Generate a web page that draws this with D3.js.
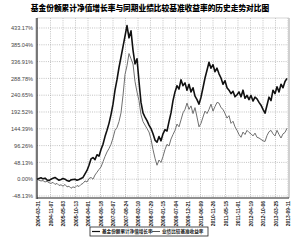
<!DOCTYPE html>
<html>
<head>
<meta charset="utf-8">
<script src="https://cdn.jsdelivr.net/npm/d3@7"></script>
<style>
  body { margin: 0; background: #fff; }
  text { font-family: "Liberation Sans", Arial, sans-serif; }
</style>
</head>
<body>
<div id="chart"></div>
<script>
// Chart data
const title = "基金份额累计净值增长率与同期业绩比较基准收益率的历史走势对比图";
const seriesNames = ["基金份额累计净值增长率", "业绩比较基准收益率"];
const yTicks = [-48.13, 0, 48.13, 96.26, 144.39, 192.52, 240.65, 288.78, 336.91, 385.04, 433.17];
const dateLabels = ["2004-03-31", "2004-11-07", "2005-05-03", "2005-10-13", "2006-04-01",
  "2006-09-18", "2007-03-07", "2007-08-24", "2008-02-10", "2008-07-29", "2009-01-15",
  "2009-07-04", "2009-12-21", "2010-06-09", "2010-11-26", "2011-05-15", "2011-11-01",
  "2012-04-19", "2012-10-06", "2013-03-25", "2013-09-11"];

// cumulative NAV growth (%) at equal time steps
const fund = [0, 2, 4, 1, 3, -2, -4, 0, 3, 5, 1, -3, -1, 2, 0, -4, -6, -2, -1, 0,
  -3, -1, 2, 5, 15, 25, 40, 58, 62, 56, 70, 66, 85, 100, 122, 140, 160, 185, 215, 255,
  285, 320, 350, 380, 410, 440, 405, 425, 370, 330, 345, 280, 220, 190, 178, 168, 155, 145, 130, 112,
  106, 122, 110, 130, 142, 138, 165, 190, 225, 250, 268, 258, 285, 268, 276, 255, 272, 250, 262, 238,
  228, 215, 235, 262, 290, 312, 335, 318, 328, 308, 318, 302, 290, 272, 282, 262, 255, 245, 252, 236,
  242, 250, 236, 255, 232, 240, 228, 240, 224, 235, 230, 220, 212, 200, 189, 212, 235, 225, 255, 245,
  265, 250, 272, 262, 280, 289];

// benchmark return (%) at the same steps
const bench = [0, -3, -5, -4, -8, -6, -10, -12, -9, -15, -12, -18, -16, -20, -15, -22, -20, -26, -22, -24,
  -18, -21, -15, -12, -5, -8, 2, 5, 0, 12, 20, 28, 35, 50, 65, 78, 88, 100, 118, 140,
  148, 165, 190, 240, 300, 325, 360, 345, 330, 280, 250, 225, 185, 165, 155, 145, 135, 115, 85, 60,
  40, 55, 48, 65, 85, 100, 95, 115, 128, 140, 158, 150, 170, 190, 200, 218, 200, 210, 188, 205,
  178, 150, 160, 178, 195, 188, 200, 215, 195, 208, 220, 218, 205, 200, 188, 175, 182, 160, 166, 150,
  140, 128, 120, 135, 128, 140, 134, 130, 124, 132, 120, 118, 114, 110, 108, 125, 136, 140, 130, 124,
  140, 128, 118, 130, 134, 146];

const W = 300, H = 240;
const mLeft = 37, mRight = 289, mTop = 18, mBottom = 198;

const svg = d3.select("#chart").append("svg")
    .attr("width", W)
    .attr("height", H);

// Title
svg.append("text")
    .attr("x", 150)
    .attr("y", 11)
    .attr("text-anchor", "middle")
    .style("font-family", "'Noto Sans CJK SC'")
    .style("font-weight", "900")
    .style("font-size", "7.7px")
    .attr("fill", "#000")
    .text(title);

// Scales
const x = d3.scaleLinear()
    .domain([0, fund.length - 1])
    .range([mLeft, mLeft + 2 * (fund.length - 1)]);

const y = d3.scaleLinear()
    .domain([-53.86, 461.8])
    .range([mBottom, mTop]);

// date tick positions spread evenly along the axis
const xt = d3.scaleLinear()
    .domain([0, dateLabels.length - 1])
    .range([mLeft + 1, mLeft + 251]);

// Grid
const grid = svg.append("g").attr("stroke", "#9a9a9a").attr("stroke-width", 0.6)
    .attr("stroke-dasharray", "1,1.2");
grid.selectAll(".hg").data(yTicks).enter().append("line")
    .attr("x1", mLeft).attr("x2", mRight)
    .attr("y1", d => y(d)).attr("y2", d => y(d));
grid.selectAll(".vg").data(dateLabels.slice(1)).enter().append("line")
    .attr("x1", (d, i) => xt(i + 1)).attr("x2", (d, i) => xt(i + 1))
    .attr("y1", mTop).attr("y2", mBottom);

// Y axis labels
svg.append("g")
    .attr("transform", `translate(${mLeft},0)`)
    .call(d3.axisLeft(y).tickValues(yTicks).tickSize(0).tickPadding(4)
      .tickFormat(d => d.toFixed(2) + "%"))
    .call(g => g.select(".domain").remove())
    .selectAll("text")
      .attr("fill", "#444")
      .style("font-size", "5.6px");

// X axis labels (rotated)
svg.append("g").selectAll("text")
    .data(dateLabels)
    .enter().append("text")
      .attr("transform", (d, i) => `translate(${xt(i) + 2},${mBottom + 3}) rotate(-90)`)
      .attr("text-anchor", "end")
      .attr("fill", "#222")
      .style("font-weight", "bold")
      .style("font-size", "5px")
      .text(d => d);

// Frame
svg.append("rect")
    .attr("x", mRight - 1).attr("y", mTop)
    .attr("width", 2).attr("height", mBottom - mTop)
    .attr("fill", "#d0d0d0");
svg.append("line")
    .attr("x1", mLeft).attr("x2", mRight)
    .attr("y1", mTop).attr("y2", mTop)
    .attr("stroke", "#bbb").attr("stroke-width", 0.6);
svg.append("line")
    .attr("x1", mLeft).attr("x2", mLeft)
    .attr("y1", mTop).attr("y2", mBottom + 1)
    .attr("stroke", "#222").attr("stroke-width", 1.2);
svg.append("line")
    .attr("x1", mLeft - 1).attr("x2", mLeft - 1)
    .attr("y1", mTop).attr("y2", mBottom + 1)
    .attr("stroke", "#666").attr("stroke-width", 0.5);
svg.append("line")
    .attr("x1", mLeft).attr("x2", mRight)
    .attr("y1", mBottom).attr("y2", mBottom)
    .attr("stroke", "#222").attr("stroke-width", 1.2);

// Lines
const line = d3.line()
    .x((d, i) => x(i))
    .y(d => y(d));

svg.append("path")
    .datum(bench)
    .attr("fill", "none")
    .attr("stroke", "#707070")
    .attr("stroke-width", 1)
    .attr("d", line);

svg.append("path")
    .datum(fund)
    .attr("fill", "none")
    .attr("stroke", "#111")
    .attr("stroke-width", 1.6)
    .attr("stroke-linejoin", "round")
    .attr("d", line);

// Legend
const lg = svg.append("g").attr("transform", "translate(90,227)");
lg.append("rect")
    .attr("width", 118).attr("height", 9)
    .attr("fill", "#fff").attr("stroke", "#222").attr("stroke-width", 0.8);
const items = [
  { name: seriesNames[0], x0: 2, color: "#111", w: 1.2 },
  { name: seriesNames[1], x0: 62, color: "#555", w: 1 }
];
items.forEach(it => {
  lg.append("line")
      .attr("x1", it.x0).attr("x2", it.x0 + 8)
      .attr("y1", 4.5).attr("y2", 4.5)
      .attr("stroke", it.color).attr("stroke-width", it.w);
  lg.append("text")
      .attr("x", it.x0 + 10).attr("y", 6.4)
      .style("font-family", "'Noto Sans CJK SC'")
      .style("font-weight", "bold")
      .style("font-size", "4.6px")
      .attr("fill", "#222")
      .text(it.name);
});
</script>
</body>
</html>
